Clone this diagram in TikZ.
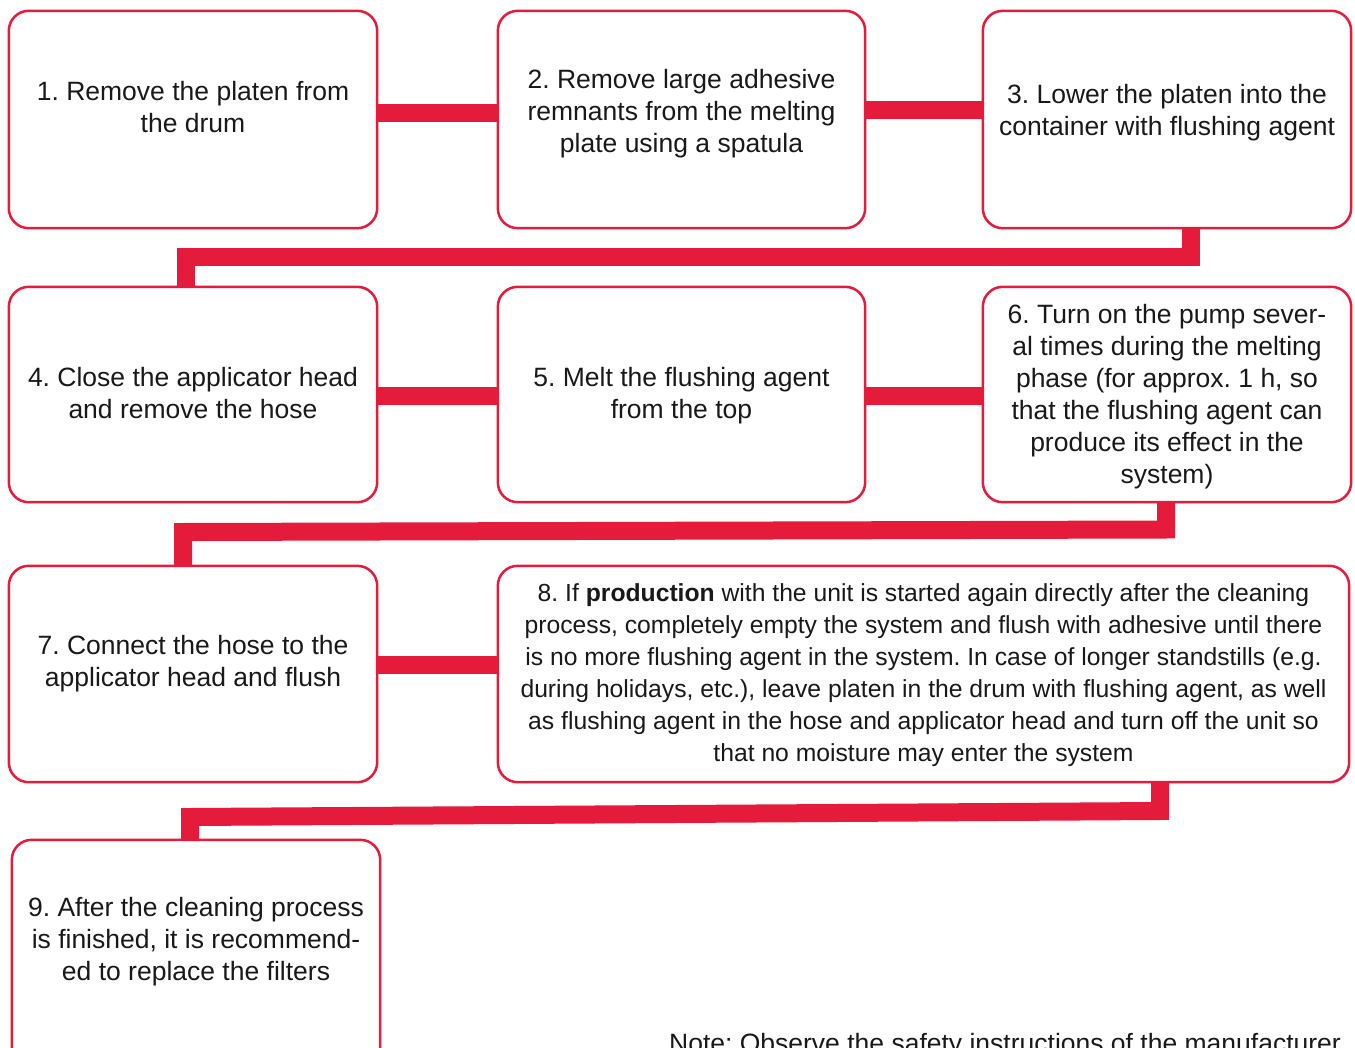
\documentclass[tikz,border=0pt]{standalone}
\usepackage{fontspec}
\setmainfont{Liberation Sans}
\definecolor{brand}{HTML}{E41B3A}
\frenchspacing
\tikzset{
  box/.style={draw=brand, line width=2.5pt, rounded corners=20pt, fill=white, inner sep=0pt},
  conn/.style={draw=brand, line width=18pt, line join=miter, line cap=butt},
  txt/.style={align=center, inner sep=0pt, text=black!90, font=\fontsize{26.5}{32}\selectfont},
  smalltxt/.style={align=center, inner sep=0pt, text=black!90, font=\fontsize{24.7}{32}\selectfont}
}
\begin{document}
\begin{tikzpicture}[x=1pt,y=-1pt]
\useasboundingbox (0,0) rectangle (1355,1048);
% connector waypoints
\coordinate (c12) at (0,113.5);
\coordinate (c23) at (0,110.5);
\coordinate (c45) at (0,396);
\coordinate (c78) at (0,665);
\coordinate (r1a) at (1191,257);
\coordinate (r1b) at (186,257);
\coordinate (r2a) at (1166,529.5);
\coordinate (r2b) at (183,532);
\coordinate (r3a) at (1160,811);
\coordinate (r3b) at (190,817);
% boxes (positions)
\path (193,119.5) coordinate (p1) (681.5,119.5) coordinate (p2) (1167,119.5) coordinate (p3)
      (193,394.5) coordinate (p4) (681.5,394.5) coordinate (p5) (1167,394.5) coordinate (p6)
      (193,674) coordinate (p7) (923.5,674) coordinate (p8) (196,955) coordinate (p9);
\node[minimum width=368pt, minimum height=217pt, inner sep=0pt] (b1) at (p1) {};
\node[minimum width=367pt, minimum height=217pt, inner sep=0pt] (b2) at (p2) {};
\node[minimum width=368pt, minimum height=217pt, inner sep=0pt] (b3) at (p3) {};
\node[minimum width=368pt, minimum height=215pt, inner sep=0pt] (b4) at (p4) {};
\node[minimum width=367pt, minimum height=215pt, inner sep=0pt] (b5) at (p5) {};
\node[minimum width=368pt, minimum height=215pt, inner sep=0pt] (b6) at (p6) {};
\node[minimum width=368pt, minimum height=216pt, inner sep=0pt] (b7) at (p7) {};
\node[minimum width=851pt, minimum height=216pt, inner sep=0pt] (b8) at (p8) {};
\node[minimum width=368pt, minimum height=230pt, inner sep=0pt] (b9) at (p9) {};
% connectors
\draw[conn] (b1.east |- c12) -- (b2.west |- c12);
\draw[conn] (b2.east |- c23) -- (b3.west |- c23);
\draw[conn] (b4.east |- c45) -- (b5.west |- c45);
\draw[conn] (b5.east |- c45) -- (b6.west |- c45);
\draw[conn] (b7.east |- c78) -- (b8.west |- c78);
\draw[conn] (b3.south -| r1a) -- (r1a) -- (r1b) -- (b4.north -| r1b);
\draw[conn] (b6.south -| r2a) -- (r2a) -- (r2b) -- (b7.north -| r2b);
\draw[conn] (b8.south -| r3a) -- (r3a) -- (r3b) -- (b9.north -| r3b);
% box outlines
\foreach \b in {b1,b2,b3,b4,b5,b6,b7,b8,b9}
  \draw[box] (\b.south west) rectangle (\b.north east);
% texts
\node[txt] (t1) at (193,107) {1. Remove the platen from\\the drum};
\node[txt] (t2) at (681.5,114) {2. Remove large adhesive\\remnants from the melting\\plate using a spatula};
\node[txt] (t3) at (1167,113) {3. Lower the platen into the\\container with flushing agent};
\node[txt] (t4) at (193,393) {4. Close the applicator head\\and remove the hose};
\node[txt] (t5) at (681.5,396) {5. Melt the flushing agent\\from the top};
\node[txt] (t6) at (1167,397) {6. Turn on the pump sever-\\al times during the melting\\phase (for approx. 1 h, so\\that the flushing agent can\\produce its effect in the\\system)};
\node[txt] (t7) at (193,664) {7. Connect the hose to the\\applicator head and flush};
\node[smalltxt] (t8) at (923.5,675) {8. If \textbf{production} with the unit is started again directly after the cleaning\\process, completely empty the system and flush with adhesive until there\\is no more flushing agent in the system. In case of longer standstills (e.g.\\during holidays, etc.), leave platen in the drum with flushing agent, as well\\as flushing agent in the hose and applicator head and turn off the unit so\\that no moisture may enter the system};
\node[txt] (t9) at (196,942) {9. After the cleaning process\\is finished, it is recommend-\\ed to replace the filters};
\node[txt, anchor=base east] (note) at (1341,1052) {Note: Observe the safety instructions of the manufacturer};
\end{tikzpicture}
\end{document}
